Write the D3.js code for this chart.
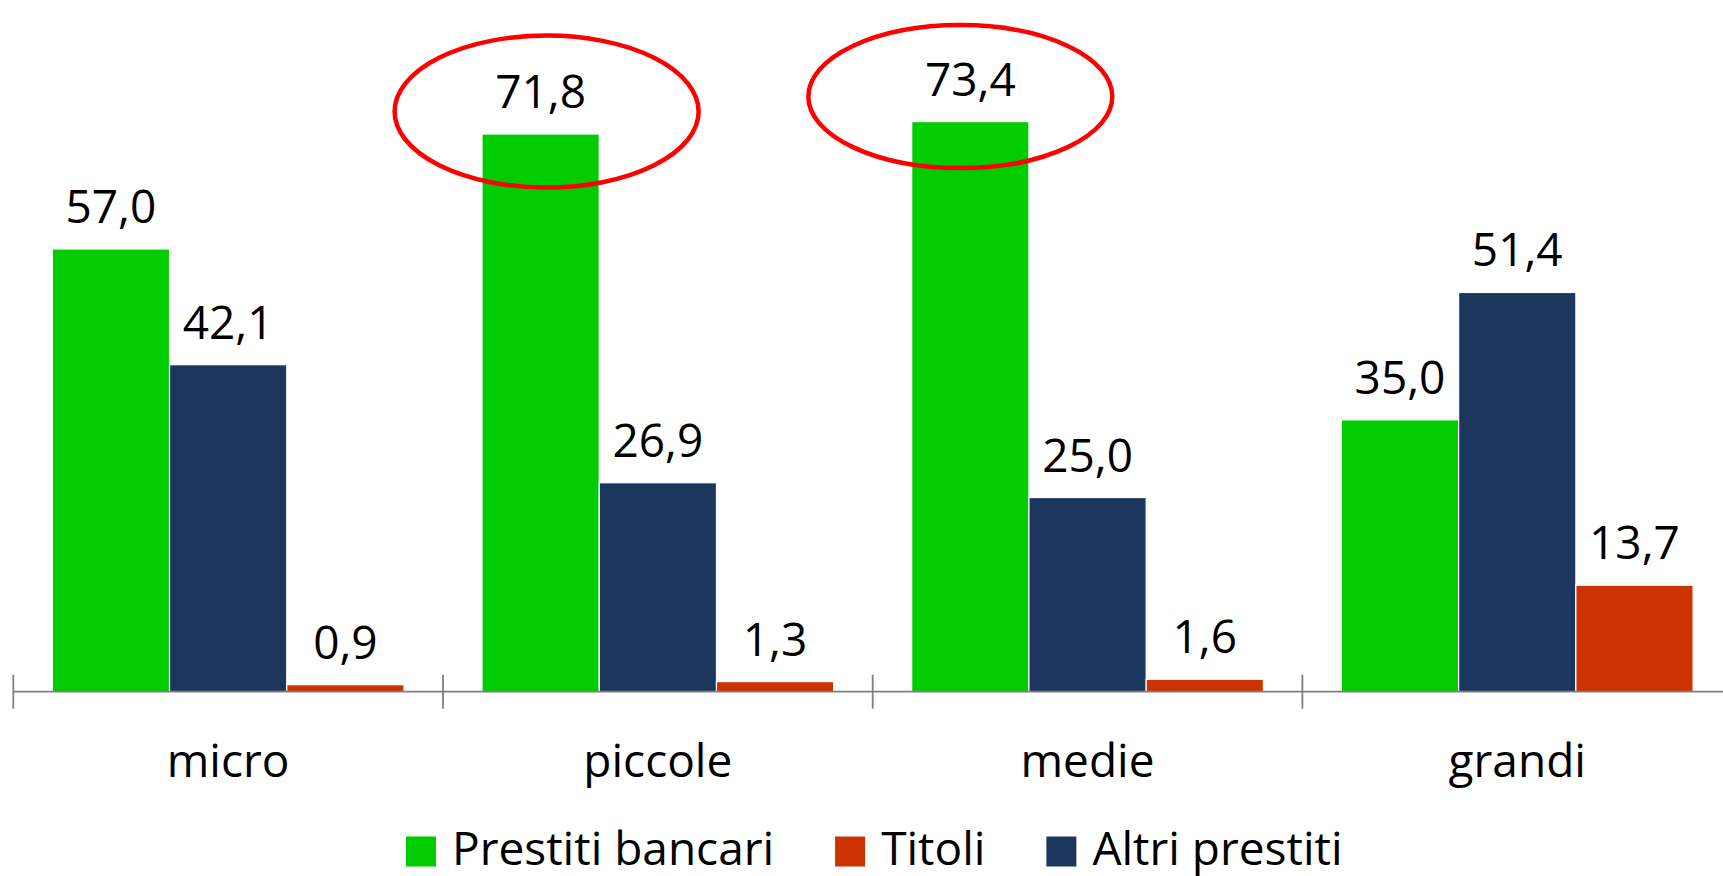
<!DOCTYPE html>
<html>
  <head>
    <meta charset="utf-8">
    <title>Composizione dei debiti finanziari per classe dimensionale</title>
    <script src="https://d3js.org/d3.v7.min.js"></script>
    <style>
      body { margin: 0; background: #fff; }
      svg { display: block; font-family: "Open Sans", sans-serif; }
      .value { font-size: 46px; fill: #000; text-anchor: middle; }
      .cat { font-size: 46px; fill: #000; text-anchor: middle; }
      .legend text { font-size: 46px; fill: #000; }
    </style>
  </head>
  <body>
    <svg id="chart" width="1723" height="876"></svg>
    <script>
      // data
      var categories = ["micro", "piccole", "medie", "grandi"];
      var bankLoans = [57.0, 71.8, 73.4, 35.0];
      var otherLoans = [42.1, 26.9, 25.0, 51.4];
      var securities = [0.9, 1.3, 1.6, 13.7];
      // bar order inside each group, legend order differs
      var barSeries = ["Prestiti bancari", "Altri prestiti", "Titoli"];
      var legendSeries = ["Prestiti bancari", "Titoli", "Altri prestiti"];
      var highlighted = ["piccole", "medie"];

      var seriesValues = {
        "Prestiti bancari": bankLoans,
        "Altri prestiti": otherLoans,
        "Titoli": securities
      };
      var colour = d3.scaleOrdinal()
        .domain(["Prestiti bancari", "Titoli", "Altri prestiti"])
        .range(["#00cc00", "#cc3300", "#1b375e"]);

      var chart = d3.select("#chart");
      var axisY = 691.7;

      // scales
      var x = d3.scaleBand()
        .domain(categories)
        .range([13.3, 13.3 + 4 * 429.7]);
      var inner = d3.scaleBand()
        .domain(barSeries)
        .range([39, x.step() - 39]);
      var y = d3.scaleLinear()
        .domain([0, 80])
        .range([axisY, axisY - 80 * 7.767]);

      var rows = [];
      categories.forEach(function(c, i) {
        barSeries.forEach(function(s) {
          rows.push({ cat: c, series: s, value: seriesValues[s][i] });
        });
      });

      // bars
      chart.append("g")
        .selectAll("rect")
        .data(rows)
        .join("rect")
          .attr("x", function(d) { return x(d.cat) + inner(d.series); })
          .attr("y", function(d) { return y(d.value); })
          .attr("width", inner.bandwidth())
          .attr("height", function(d) { return y(0) - y(d.value); })
          .attr("fill", function(d) { return colour(d.series); })
          .attr("stroke", "#fff")
          .attr("stroke-width", 1.2);

      // value labels
      chart.append("g")
        .selectAll("text")
        .data(rows)
        .join("text")
          .attr("class", "value")
          .attr("x", function(d) { return x(d.cat) + inner(d.series) + inner.bandwidth() / 2; })
          .attr("y", function(d) { return y(d.value) - 26; })
          .text(function(d) { return d3.format(".1f")(d.value).replace(".", ","); });

      // x axis: line, boundary ticks, labels
      var axisGroup = chart.append("g")
        .attr("transform", "translate(0," + axisY + ")");
      axisGroup.append("line")
        .attr("x1", x.range()[0])
        .attr("x2", 1723)
        .attr("stroke", "#7f7f7f")
        .attr("stroke-width", 1.8);
      axisGroup.selectAll(".tick")
        .data(categories)
        .join("line")
          .attr("class", "tick")
          .attr("x1", function(d) { return x(d); })
          .attr("x2", function(d) { return x(d); })
          .attr("y1", -17)
          .attr("y2", 17)
          .attr("stroke", "#7f7f7f")
          .attr("stroke-width", 1.8);
      axisGroup.selectAll(".cat")
        .data(categories)
        .join("text")
          .attr("class", "cat")
          .attr("x", function(d) { return x(d) + x.bandwidth() / 2; })
          .attr("y", 85)
          .text(function(d) { return d; });

      // red highlight ellipses around the tallest bank-loan bars
      chart.append("g")
        .selectAll("ellipse")
        .data(highlighted)
        .join("ellipse")
          .attr("cx", function(d, i) { return x(d) + inner("Prestiti bancari") + inner.bandwidth() / 2 + (i === 0 ? 6 : -10); })
          .attr("cy", function(d, i) { return y(seriesValues["Prestiti bancari"][categories.indexOf(d)]) - (i === 0 ? 22.5 : 25); })
          .attr("rx", 152)
          .attr("ry", function(d, i) { return i === 0 ? 76 : 71.5; })
          .attr("fill", "none")
          .attr("stroke", "#ff0000")
          .attr("stroke-width", 4.5);

      // legend
      var legend = chart.append("g").attr("class", "legend");
      var lx = 406;
      legendSeries.forEach(function(s) {
        var item = legend.append("g").attr("transform", "translate(" + lx + ",0)");
        item.append("rect")
          .attr("x", 0)
          .attr("y", 836.5)
          .attr("width", 30)
          .attr("height", 30)
          .attr("fill", colour(s));
        var t = item.append("text")
          .attr("x", 46)
          .attr("y", 865)
          .text(s);
        lx += 46 + t.node().getComputedTextLength() + 61;
      });
    </script>
  </body>
</html>
